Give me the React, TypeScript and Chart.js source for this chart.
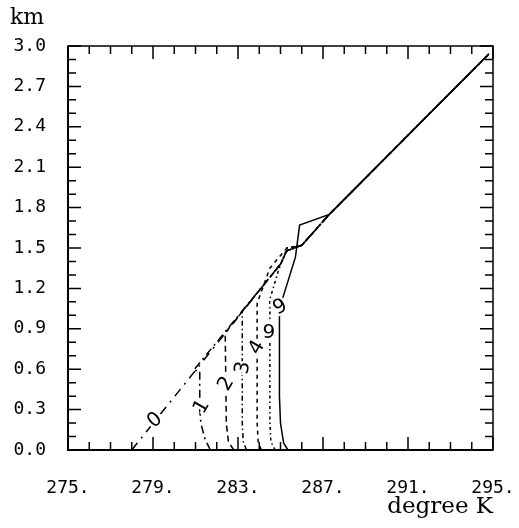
import React, { useEffect, useRef } from 'react';
import { Chart, registerables } from 'chart.js';

Chart.register(...registerables);

// Axis tick labels
const xTickValues = [275, 279, 283, 287, 291, 295];
const yTickValues = [0, 0.3, 0.6, 0.9, 1.2, 1.5, 1.8, 2.1, 2.4, 2.7, 3.0];

// Curve names
const curveNames = ['0', '1', '2', '3', '4', '6', '9'];

// Temperature (K) and height (km) of each profile
const t0 = [278.0, 285.0, 285.3, 286.0, 287.3, 294.8];
const z0 = [0.0, 1.38, 1.48, 1.52, 1.75, 2.94];

const t1 = [281.7, 281.45, 281.25, 281.2, 281.2, 280.9, 285.0, 285.3, 286.0, 287.3, 294.8];
const z1 = [0.0, 0.08, 0.2, 0.3, 0.59, 0.59, 1.38, 1.48, 1.52, 1.75, 2.94];

const t2 = [282.8, 282.55, 282.45, 282.4, 282.5, 285.0, 285.3, 286.0, 287.3, 294.8];
const z2 = [0.0, 0.06, 0.2, 0.85, 0.89, 1.38, 1.48, 1.52, 1.75, 2.94];

const t3 = [283.4, 283.25, 283.2, 283.2, 285.0, 285.3, 286.0, 287.3, 294.8];
const z3 = [0.0, 0.06, 0.2, 1.03, 1.38, 1.48, 1.52, 1.75, 2.94];

const t4 = [284.1, 283.95, 283.9, 283.9, 284.5, 285.3, 286.0, 287.3, 294.8];
const z4 = [0.0, 0.06, 0.2, 1.09, 1.35, 1.5, 1.52, 1.75, 2.94];

const t6 = [284.75, 284.55, 284.5, 284.5, 284.9, 285.3, 286.0, 287.3, 294.8];
const z6 = [0.0, 0.06, 0.2, 1.12, 1.33, 1.5, 1.52, 1.75, 2.94];

const t9 = [285.35, 285.15, 285.0, 284.95, 284.95, 285.7, 285.9, 287.3, 294.8];
const z9 = [0.0, 0.05, 0.2, 0.4, 1.05, 1.43, 1.67, 1.75, 2.94];

// Curve label anchors (data space)
const labelT = [279.1, 281.3, 282.45, 283.25, 283.9, 284.45, 285.0];
const labelZ = [0.22, 0.32, 0.49, 0.61, 0.76, 0.9, 1.06];

const seriesT = [t0, t1, t2, t3, t4, t6, t9];
const seriesZ = [z0, z1, z2, z3, z4, z6, z9];

const dashes: number[][] = [
  [9, 6, 2, 6],
  [8, 4, 2, 4],
  [6, 4],
  [5, 3, 1.5, 3],
  [4, 4],
  [3, 3, 1.5, 3],
  [],
];
const labelAngles = [-40, -60, -60, -80, -60, 180, -30];

const frameAndTicks = {
  id: 'frameAndTicks',
  afterDatasetsDraw(chart: any) {
    const { ctx, chartArea: a, scales } = chart;
    const xs = scales.x;
    const ys = scales.y;
    ctx.save();
    ctx.strokeStyle = '#000';
    ctx.lineCap = 'butt';
    ctx.setLineDash([]);
    // ticks
    ctx.lineWidth = 1.5;
    for (let v = 275; v <= 295; v++) {
      const px = xs.getPixelForValue(v);
      const major = (v - 275) % 4 === 0;
      const len = major ? 13 : 8;
      ctx.beginPath();
      ctx.moveTo(px, a.bottom);
      ctx.lineTo(px, a.bottom - len);
      ctx.moveTo(px, a.top);
      ctx.lineTo(px, a.top + len);
      ctx.stroke();
    }
    for (let i = 0; i <= 30; i++) {
      const v = i / 10;
      const py = ys.getPixelForValue(v);
      const major = i % 3 === 0;
      const len = major ? 13 : 8;
      ctx.beginPath();
      ctx.moveTo(a.left, py);
      ctx.lineTo(a.left + len, py);
      ctx.moveTo(a.right, py);
      ctx.lineTo(a.right - len, py);
      ctx.stroke();
    }
    // frame
    ctx.lineWidth = 1.5;
    ctx.strokeRect(a.left, a.top, a.right - a.left, a.bottom - a.top);
    ctx.lineWidth = 2;
    ctx.beginPath();
    ctx.moveTo(a.left, a.top);
    ctx.lineTo(a.left, a.bottom);
    ctx.lineTo(a.right, a.bottom);
    ctx.stroke();

    // curve labels
    ctx.font = '20px "DejaVu Sans"';
    ctx.textAlign = 'center';
    ctx.textBaseline = 'middle';
    for (let i = 0; i < curveNames.length; i++) {
      const px = xs.getPixelForValue(labelT[i]);
      const py = ys.getPixelForValue(labelZ[i]);
      ctx.save();
      ctx.translate(px, py);
      ctx.rotate((labelAngles[i] * Math.PI) / 180);
      ctx.lineWidth = 5;
      ctx.strokeStyle = '#fff';
      ctx.strokeText(curveNames[i], 0, 0);
      ctx.fillStyle = '#000';
      ctx.fillText(curveNames[i], 0, 0);
      ctx.restore();
    }

    // axis titles
    ctx.fillStyle = '#000';
    ctx.textBaseline = 'alphabetic';
    ctx.font = '22px "DejaVu Serif"';
    ctx.textAlign = 'left';
    ctx.fillText('km', 10, 24);
    ctx.font = '23px "DejaVu Serif"';
    ctx.textAlign = 'right';
    ctx.fillText('degree K', a.right, 513);
    ctx.restore();
  },
};

export default function App() {
  const ref = useRef<HTMLCanvasElement>(null);
  useEffect(() => {
    if (!ref.current) return;
    const datasets = seriesT.map((ts, i) => ({
      label: curveNames[i],
      data: ts.map((t, j) => ({ x: t, y: seriesZ[i][j] })),
      showLine: true,
      borderColor: '#000',
      backgroundColor: '#000',
      borderWidth: 1.5,
      borderDash: dashes[i],
      pointRadius: 0,
      fill: false,
      tension: 0,
    }));
    const chart = new Chart(ref.current, {
      type: 'scatter',
      data: { datasets },
      options: {
        animation: false,
        responsive: true,
        maintainAspectRatio: false,
        devicePixelRatio: 1,
        layout: { padding: { left: 0, top: 46, right: 26, bottom: 0 } },
        plugins: { legend: { display: false }, tooltip: { enabled: false } },
        scales: {
          x: {
            type: 'linear',
            min: 275,
            max: 295,
            afterFit: (s: any) => {
              s.height = 78;
              s.paddingLeft = 0;
              s.paddingRight = 0;
            },
            afterBuildTicks: (s: any) => { s.ticks = xTickValues.map((v) => ({ value: v })); },
            grid: { display: false, drawTicks: false },
            border: { display: false },
            ticks: {
              padding: 28,
              color: '#000',
              maxRotation: 0,
              autoSkip: false,
              font: { family: '"DejaVu Sans Mono"', size: 18 },
              callback: (v: any) => `${v}.`,
            },
          },
          y: {
            type: 'linear',
            min: 0,
            max: 3,
            afterFit: (s: any) => {
              s.width = 68;
              s.paddingTop = 0;
              s.paddingBottom = 0;
            },
            afterBuildTicks: (s: any) => { s.ticks = yTickValues.map((v) => ({ value: v })); },
            grid: { display: false, drawTicks: false },
            border: { display: false },
            ticks: {
              padding: 22,
              color: '#000',
              autoSkip: false,
              font: { family: '"DejaVu Sans Mono"', size: 18 },
              callback: (v: any) => Number(v).toFixed(1),
            },
          },
        },
      },
      plugins: [frameAndTicks],
    });
    return () => chart.destroy();
  }, []);
  return (
    <div style={{ position: 'absolute', left: 0, top: 0, width: 519, height: 528, background: '#fff' }}>
      <canvas ref={ref} />
    </div>
  );
}
